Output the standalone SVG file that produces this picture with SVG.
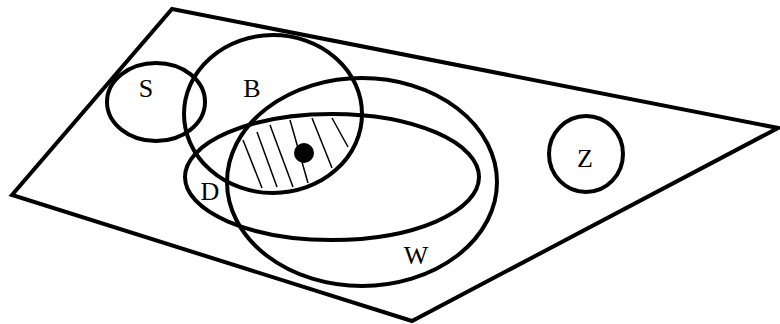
<svg xmlns="http://www.w3.org/2000/svg" width="780" height="324" viewBox="0 0 780 324">
<style>
.s{fill:none;stroke:#000;stroke-width:4}
.h{stroke:#000;stroke-width:1.5}
.t{font-family:"Liberation Serif","Times New Roman",serif;font-size:26px;text-anchor:middle;fill:#000}
</style>
<rect width="780" height="324" fill="#fff"/>
<g id="universe"><polygon class="s" points="172,9 778,128 412,321 12,195"/></g>
<g id="hatch">
<line class="h" x1="243" y1="140" x2="262" y2="188"/>
<line class="h" x1="257" y1="132" x2="277" y2="187"/>
<line class="h" x1="270" y1="125" x2="293" y2="187"/>
<line class="h" x1="290" y1="120" x2="308" y2="183"/>
<line class="h" x1="312" y1="118" x2="332" y2="168"/>
<line class="h" x1="332" y1="118" x2="348" y2="147"/>
</g>
<g id="S"><ellipse class="s" cx="156" cy="102" rx="49" ry="39"/><text class="t" x="146" y="97">S</text></g>
<g id="B"><ellipse class="s" cx="273" cy="114" rx="89" ry="79"/><text class="t" x="252" y="97">B</text></g>
<g id="W"><ellipse class="s" cx="362" cy="182" rx="135" ry="104"/><text class="t" x="416" y="264">W</text></g>
<g id="D"><ellipse class="s" cx="332" cy="177" rx="147" ry="63"/><text class="t" x="210" y="200">D</text></g>
<g id="Z"><ellipse class="s" cx="586" cy="154" rx="37" ry="38"/><text class="t" x="585" y="167">Z</text></g>
<g id="dot"><circle cx="304" cy="153" r="10" fill="#000"/></g>
<g id="connectors"/>
</svg>
